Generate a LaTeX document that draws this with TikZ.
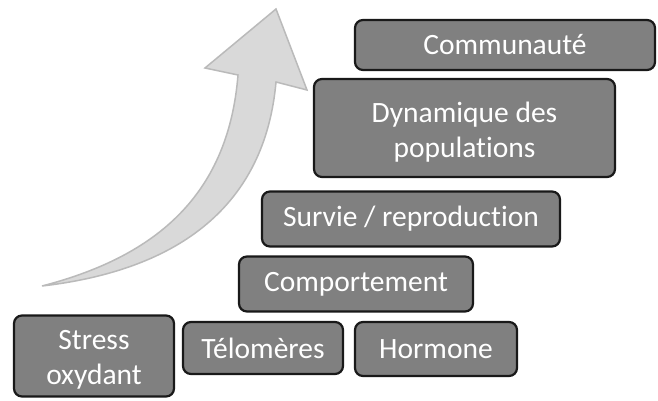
\documentclass[tikz,border=0pt]{standalone}
\usepackage{fontspec}
\setmainfont[Ligatures={NoCommon}]{Carlito}
\begin{document}
\begin{tikzpicture}[x=1pt,y=-1pt,
  lvl/.style={draw=black!90, line width=2.2pt, fill=black!50, rounded corners=8pt,
    text=white, align=center, inner sep=0pt,
    font=\fontsize{29.5}{36}\selectfont},
  lvltext/.style={text=white, align=center, inner sep=0pt,
    font=\fontsize{29.5}{35.5}\selectfont},
  bigarrow/.style={fill=black!15, draw=black!27, line width=1.5pt, line join=miter}]
\useasboundingbox (0,0) rectangle (658,401);
\fill[white] (0,0) rectangle (658,401);
% arrow
\draw[bigarrow] (42,286) .. controls (150,258) and (228,200) .. (238,75)
  -- (205,68) -- (276,9) -- (307,90) -- (276,82)
  .. controls (265,205) and (180,270) .. (42,286) -- cycle;
% boxes
\node[lvl, minimum width=160pt, minimum height=81pt] (stress) at (94,356) {};
\node[lvltext] (stresstxt) at ([yshift=-4pt]stress.center) {Stress\\oxydant};
\node[lvl, minimum width=160pt, minimum height=52pt] (telo) at (263,348) {Télomères};
\node[lvl, minimum width=162pt, minimum height=54pt] (horm) at (436,349) {Hormone};
\node[lvl, minimum width=234pt, minimum height=55pt] (comp) at (356,284) {Comportement};
\node[lvl, minimum width=298pt, minimum height=55pt] (surv) at (411,219) {Survie / reproduction};
\node[lvl, minimum width=301pt, minimum height=98pt] (dyn) at (464.5,128) {};
\node[lvltext] (dyntxt) at ([yshift=-4pt]dyn.center) {Dynamique des\\populations};
\node[lvl, minimum width=300pt, minimum height=50pt] (comm) at (505,45) {Communauté};
\end{tikzpicture}
\end{document}
